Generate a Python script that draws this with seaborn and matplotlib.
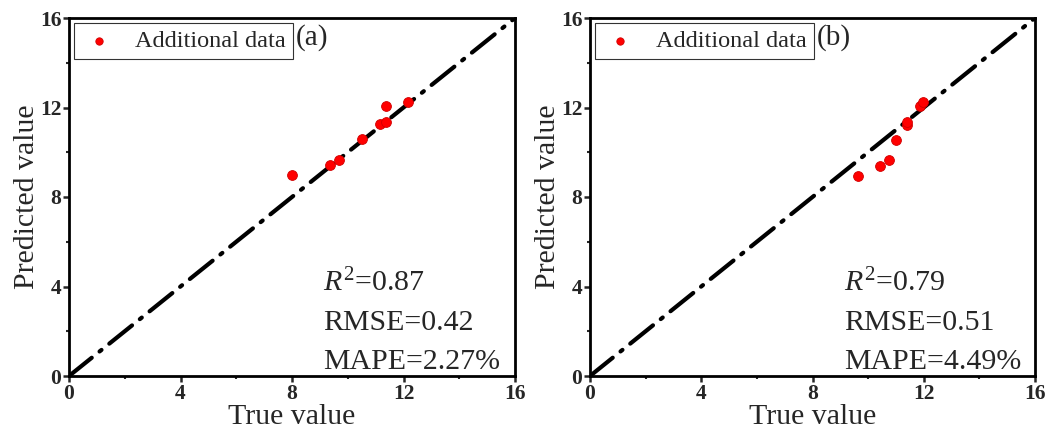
import numpy as np
import pandas as pd
import matplotlib
matplotlib.use("Agg")
import matplotlib.pyplot as plt
import seaborn as sns
from matplotlib.ticker import MultipleLocator

# Data
true_a = [8.00, 9.37, 9.68, 10.52, 11.14, 11.36, 11.36, 12.17]
pred_a = [9.00, 9.41, 9.67, 10.57, 11.25, 11.34, 12.05, 12.23]
true_b = [9.64, 10.41, 10.76, 10.99, 11.41, 11.41, 11.87, 11.99]
pred_b = [8.96, 9.39, 9.67, 10.54, 11.22, 11.37, 12.05, 12.26]
panel_labels = ["(a)", "(b)"]
stats_r2 = ["0.87", "0.79"]
stats_rmse = ["0.42", "0.51"]
stats_mape = ["2.27%", "4.49%"]

sns.set_theme(style="white")
plt.rcParams['font.family'] = ['Liberation Serif', 'DejaVu Serif']
plt.rcParams['mathtext.fontset'] = 'custom'
plt.rcParams['mathtext.it'] = 'Liberation Serif:italic'
plt.rcParams['mathtext.rm'] = 'Liberation Serif'

fig = plt.figure(figsize=(10.57, 4.34), dpi=100)
axes = [fig.add_axes([69/1057, 58/434, 446/1057, 358/434]),
        fig.add_axes([590/1057, 58/434, 445/1057, 358/434])]

datasets = [(true_a, pred_a), (true_b, pred_b)]
for i, ax in enumerate(axes):
    t, p = datasets[i]
    df = pd.DataFrame({"True value": t, "Predicted value": p})
    ax.plot([0, 16], [0, 16], color="black", lw=3.0,
            ls=(0, (7, 2.4, 0.6, 2.4)), dash_capstyle="round", zorder=1)
    sns.scatterplot(data=df, x="True value", y="Predicted value", ax=ax,
                    color="#ff0000", edgecolor="#d00000", linewidth=0.6,
                    s=50, zorder=3, label="Additional data")
    ax.set_xlim(0, 16)
    ax.set_ylim(0, 16)
    ax.xaxis.set_major_locator(MultipleLocator(4))
    ax.yaxis.set_major_locator(MultipleLocator(4))
    ax.xaxis.set_minor_locator(MultipleLocator(2))
    ax.yaxis.set_minor_locator(MultipleLocator(2))
    ax.tick_params(which="major", direction="out", length=4, width=1.8,
                   labelsize=15.5, pad=1.5, bottom=True, left=True)
    ax.tick_params(which="minor", direction="out", length=2.2, width=1.5,
                   bottom=True, left=True)
    for lab in ax.get_xticklabels() + ax.get_yticklabels():
        lab.set_fontweight("bold")
    for sp in ax.spines.values():
        sp.set_linewidth(2)
        sp.set_color("black")
    ax.set_xlabel("True value", fontsize=21.5, labelpad=0)
    ax.set_ylabel("Predicted value", fontsize=21.5, labelpad=0)
    leg = ax.legend(loc="upper left", fontsize=17.5, frameon=True, fancybox=False,
                    edgecolor="black", borderpad=0.3, handletextpad=0.7,
                    borderaxespad=0.2, markerscale=0.75, handlelength=1.5)
    leg.get_frame().set_linewidth(0.8)
    ax.text(0.509, 0.945, panel_labels[i], transform=ax.transAxes,
            fontsize=21, va="center", ha="left")
    ax.text(0.57, 0.26, r"$R^2$=" + stats_r2[i], transform=ax.transAxes,
            fontsize=21.5, va="center")
    ax.text(0.57, 0.148, "RMSE=" + stats_rmse[i], transform=ax.transAxes,
            fontsize=21.5, va="center")
    ax.text(0.57, 0.039, "MAPE=" + stats_mape[i], transform=ax.transAxes,
            fontsize=21.5, va="center")

fig.savefig("out.png", dpi=100)
